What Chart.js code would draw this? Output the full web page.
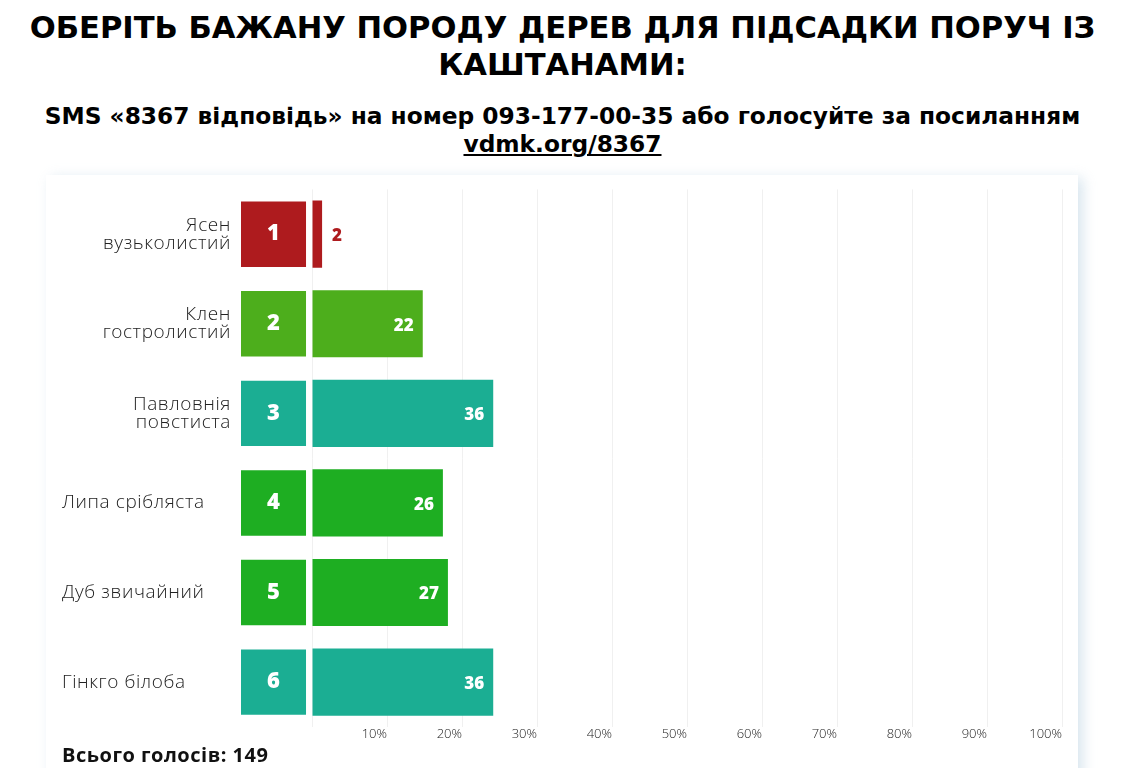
<!DOCTYPE html>
<html lang="uk">
<head>
  <meta charset="UTF-8" />
  <title>Опитування</title>
  <script src="https://cdn.jsdelivr.net/npm/chart.js"></script>
  <style>
    body { margin: 0; background: #fff; font-family: "DejaVu Sans", Verdana, sans-serif; }
    h1 { margin: 9px 0 0; text-align: center; font-size: 30.6px; line-height: 37px; font-weight: bold; color: #000; }
    h3 { margin: 19px 0 0; text-align: center; font-size: 23.3px; line-height: 28px; font-weight: bold; color: #000; }
    h3 a { color: #000; text-decoration: underline; }
    #card {
      position: absolute; left: 46px; top: 175px; width: 1032px; height: 620px;
      background: #fff; box-shadow: 5px 3px 12px rgba(170, 200, 220, 0.45);
    }
  </style>
</head>
<body>

  <h1>ОБЕРІТЬ БАЖАНУ ПОРОДУ ДЕРЕВ ДЛЯ ПІДСАДКИ ПОРУЧ ІЗ<br>КАШТАНАМИ:</h1>
  <h3>SMS «8367 відповідь» на номер 093-177-00-35 або голосуйте за посиланням<br><a>vdmk.org/8367</a></h3>

  <div id="card">
    <canvas id="grafico" width="1032" height="593"></canvas>
  </div>

  <script>
    // дані опитування
    const categories = [
      ['Ясен', 'вузьколистий'],
      ['Клен', 'гостролистий'],
      ['Павловнія', 'повстиста'],
      'Липа срібляста',
      'Дуб звичайний',
      'Гінкго білоба'
    ];
    const ranks = [1, 2, 3, 4, 5, 6];
    const votes = [2, 22, 36, 26, 27, 36];
    const colors = ['#ae1b1e', '#4dae1c', '#1bae93', '#1eae22', '#1eae22', '#1bae93'];
    const tickValues = [0, 10, 20, 30, 40, 50, 60, 70, 80, 90, 100];

    const total = votes.reduce((a, b) => a + b, 0);
    const percents = votes.map(v => v / total * 100);

    const X_MIN = -9.47;   // місце під номери зліва від нуля
    const BOX_GAP = -0.8;

    const labelFont = '300 19px "Open Sans", sans-serif';
    const boldFont = '"Open Sans", sans-serif';

    const etykiety = {
      id: 'etykiety',
      afterDatasetsDraw(chart) {
        const ctx = chart.ctx;
        const area = chart.chartArea;
        const boxes = chart.getDatasetMeta(0).data;
        const bars = chart.getDatasetMeta(1).data;
        ctx.save();
        ctx.textBaseline = 'middle';

        boxes.forEach((el, i) => {
          const cx = (el.x + el.base) / 2;
          ctx.fillStyle = '#fff';
          ctx.textAlign = 'center';
          ctx.font = '800 22px ' + boldFont;
          ctx.fillText(ranks[i], cx, el.y);
        });

        bars.forEach((el, i) => {
          const w = el.x - el.base;
          ctx.font = '800 17px ' + boldFont;
          ctx.letterSpacing = '0px';
          if (w > 40) {
            ctx.fillStyle = '#fff';
            ctx.textAlign = 'right';
            ctx.fillText(votes[i], el.x - 9, el.y + 2);
          } else {
            ctx.fillStyle = colors[i];
            ctx.textAlign = 'left';
            ctx.fillText(votes[i], el.x + 10, el.y + 2);
          }

          // назви порід
          ctx.font = labelFont;
          ctx.letterSpacing = '0.6px';
          ctx.fillStyle = '#222';
          const lab = categories[i];
          if (Array.isArray(lab)) {
            ctx.textAlign = 'right';
            lab.forEach((line, k) => {
              ctx.fillText(line, area.left - 10, el.y - 9 + k * 18);
            });
          } else {
            ctx.textAlign = 'left';
            ctx.fillText(lab, 16, el.y);
          }
        });

        ctx.font = 'bold 20px ' + boldFont;
        ctx.letterSpacing = '0.5px';
        ctx.fillStyle = '#111';
        ctx.textAlign = 'left';
        ctx.fillText('Всього голосів: ' + total, 16, 581);
        ctx.restore();
      }
    };

    const ctx = document.getElementById('grafico').getContext('2d');
    const chart = new Chart(ctx, {
      type: 'bar',
      data: {
        labels: categories,
        datasets: [
          {
            data: categories.map(() => [X_MIN, BOX_GAP]),
            backgroundColor: colors,
            grouped: false,
            barPercentage: 0.73,
            categoryPercentage: 1
          },
          {
            data: percents,
            backgroundColor: colors,
            grouped: false,
            barPercentage: 0.75,
            categoryPercentage: 1
          }
        ]
      },
      options: {
        indexAxis: 'y',
        responsive: false,
        animation: false,
        layout: { padding: { left: 195, right: 16, top: 14.4, bottom: 25.5 } },
        plugins: { legend: { display: false }, tooltip: { enabled: false } },
        scales: {
          y: { display: false },
          x: {
            min: X_MIN,
            max: 100,
            afterBuildTicks: (scale) => { scale.ticks = tickValues.map(v => ({ value: v })); },
            grid: { color: '#f0f0f0', drawTicks: false },
            border: { display: false },
            ticks: {
              align: 'end',
              padding: 0,
              color: '#222',
              font: { family: '"Open Sans", sans-serif', size: 13, weight: 300 },
              callback: (v) => v === 0 ? '' : v + '%'
            }
          }
        }
      },
      plugins: [etykiety]
    });
  </script>

</body>
</html>
